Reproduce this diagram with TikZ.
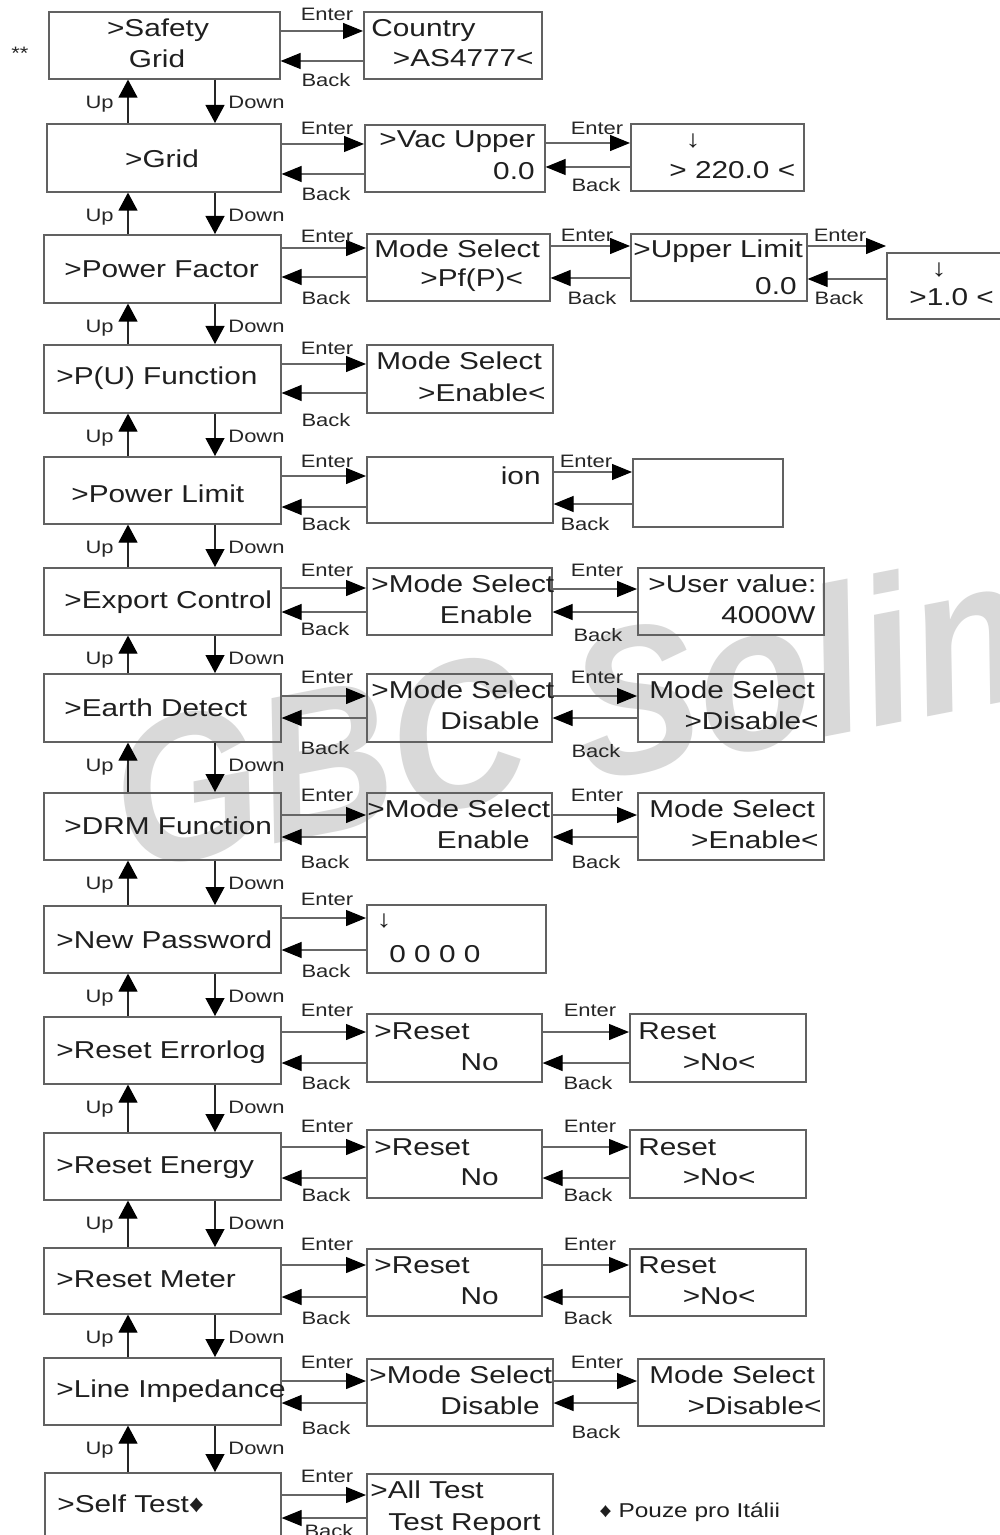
\documentclass[tikz,border=0pt]{standalone}
\usepackage{fontspec}
\setmainfont{Liberation Sans}[FakeStretch=1.22]
\newfontfamily\wmfont{Liberation Sans}[FakeStretch=0.9]
\usetikzlibrary{arrows.meta,calc}
\newcommand\mainsz{\fontsize{12.2pt}{14pt}\selectfont}
\newcommand\lblsz{\fontsize{9pt}{11pt}\selectfont}
\newcommand\mkbox[5]{\node[box, anchor=north west, minimum width={(#4-#2)*0.5pt}, minimum height={(#5-#3)*0.5pt}] (#1) at (#2,#3) {};}
\newcommand\lnk[4]{%
  \draw[harr] (#1.east |- 0,#3) -- (#2.west |- 0,#3);
  \draw[harr] (#2.west |- 0,#4) -- (#1.east |- 0,#4);}
\newcommand\ud[3]{%
  \draw[varr] (#2.north -| 128,0) -- (#1.south -| 128,0);
  \draw[varr] (#1.south -| 215,0) -- (#2.north -| 215,0);
  \node[lbl, anchor=base east] (up#3) at ($(#1.south -| 114,0)+(0,29)$) {Up};
  \node[lbl, anchor=base west] (dn#3) at ($(#1.south -| 228,0)+(0,29)$) {Down};}
\tikzset{
  box/.style={draw=black!62, line width=0.8pt, inner sep=0pt},
  lbl/.style={font=\lblsz, inner sep=0pt, text=black!85},
  txt/.style={font=\mainsz, inner sep=0pt, text=black!88},
  harr/.style={draw=black!60, line width=0.6pt, -{Triangle[length=10pt,width=8pt,color=black]}},
  varr/.style={draw=black!85, line width=0.6pt, -{Triangle[length=9pt,width=9.5pt,color=black]}},
  wm/.style={font=\wmfont\bfseries\itshape\fontsize{104pt}{110pt}\selectfont, text=black!15, inner sep=0pt}
}
\begin{document}
\begin{tikzpicture}[x=0.5pt,y=-0.5pt]
\useasboundingbox (0,0) rectangle (1000,1535);
\clip (0,0) rectangle (1000,1535);
\fill[white] (0,0) rectangle (1000,1535);
% watermark
\node[wm, anchor=base west, rotate=11] (wm) at (128,872) {GBC Solin};
% main column
\mkbox{m1}{48}{11}{279}{78}
\mkbox{m2}{46}{123}{280}{191}
\mkbox{m3}{43}{234}{280}{302}
\mkbox{m4}{43}{344}{280}{412}
\mkbox{m5}{43}{456}{280}{523}
\mkbox{m6}{43}{567}{280}{634}
\mkbox{m7}{43}{673}{280}{741}
\mkbox{m8}{43}{792}{280}{859}
\mkbox{m9}{43}{905}{280}{972}
\mkbox{m10}{43}{1016}{280}{1083}
\mkbox{m11}{43}{1132}{280}{1199}
\mkbox{m12}{43}{1247}{280}{1313}
\mkbox{m13}{43}{1357}{280}{1424}
\mkbox{m14}{44}{1472}{280}{1570}
% second column
\mkbox{a1}{363}{11}{541}{78}
\mkbox{a2}{364}{124}{544}{191}
\mkbox{a3}{366}{233}{549}{300}
\mkbox{a4}{366}{344}{552}{412}
\mkbox{a5}{366}{456}{552}{522}
\mkbox{a6}{366}{567}{551}{634}
\mkbox{a7}{366}{673}{551}{741}
\mkbox{a8}{366}{792}{551}{859}
\mkbox{a9}{366}{904}{545}{972}
\mkbox{a10}{366}{1013}{541}{1081}
\mkbox{a11}{366}{1129}{541}{1197}
\mkbox{a12}{366}{1248}{541}{1315}
\mkbox{a13}{366}{1358}{552}{1425}
\mkbox{a14}{366}{1473}{552}{1570}
% third column
\mkbox{c2}{630}{123}{803}{190}
\mkbox{c3}{630}{233}{806}{300}
\mkbox{c5}{632}{458}{782}{526}
\mkbox{c6}{637}{567}{823}{634}
\mkbox{c7}{637}{673}{823}{741}
\mkbox{c8}{637}{792}{823}{859}
\mkbox{c10}{629}{1013}{805}{1081}
\mkbox{c11}{629}{1129}{805}{1197}
\mkbox{c12}{629}{1248}{805}{1315}
\mkbox{c13}{637}{1358}{823}{1425}
\mkbox{d3}{886}{252}{1015}{318}
% enter/back links
\lnk{m1}{a1}{31}{61}
\lnk{m2}{a2}{144}{174}
\lnk{m3}{a3}{248}{277}
\lnk{m4}{a4}{364}{393}
\lnk{m5}{a5}{476}{507}
\lnk{m6}{a6}{588}{612}
\lnk{m7}{a7}{696}{718}
\lnk{m8}{a8}{815}{837}
\lnk{m9}{a9}{918}{950}
\lnk{m10}{a10}{1032}{1063}
\lnk{m11}{a11}{1147}{1178}
\lnk{m12}{a12}{1265}{1297}
\lnk{m13}{a13}{1381}{1403}
\lnk{m14}{a14}{1495}{1518}
\lnk{a2}{c2}{143}{167}
\lnk{a3}{c3}{246}{278}
\lnk{c3}{d3}{246}{279}
\lnk{a5}{c5}{472}{504}
\lnk{a6}{c6}{589}{612}
\lnk{a7}{c7}{696}{718}
\lnk{a8}{c8}{815}{837}
\lnk{a10}{c10}{1032}{1063}
\lnk{a11}{c11}{1147}{1178}
\lnk{a12}{c12}{1265}{1297}
\lnk{a13}{c13}{1381}{1403}
% enter/back labels, first column of links
\node[lbl] (e1) at (327,14) {Enter};   \node[lbl] (b1) at (326,80) {Back};
\node[lbl] (e2) at (327,128) {Enter};  \node[lbl] (b2) at (326,194) {Back};
\node[lbl] (e3) at (327,236) {Enter};  \node[lbl] (b3) at (326,298) {Back};
\node[lbl] (e4) at (327,348) {Enter};  \node[lbl] (b4) at (326,420) {Back};
\node[lbl] (e5) at (327,461) {Enter};  \node[lbl] (b5) at (326,524) {Back};
\node[lbl] (e6) at (327,570) {Enter};  \node[lbl] (b6) at (325,629) {Back};
\node[lbl] (e7) at (327,677) {Enter};  \node[lbl] (b7) at (325,748) {Back};
\node[lbl] (e8) at (327,795) {Enter};  \node[lbl] (b8) at (325,862) {Back};
\node[lbl] (e9) at (327,899) {Enter};  \node[lbl] (b9) at (326,971) {Back};
\node[lbl] (e10) at (327,1010) {Enter}; \node[lbl] (b10) at (326,1083) {Back};
\node[lbl] (e11) at (327,1126) {Enter}; \node[lbl] (b11) at (326,1195) {Back};
\node[lbl] (e12) at (327,1244) {Enter}; \node[lbl] (b12) at (326,1318) {Back};
\node[lbl] (e13) at (327,1362) {Enter}; \node[lbl] (b13) at (326,1428) {Back};
\node[lbl] (e14) at (327,1476) {Enter}; \node[lbl] (b14) at (329,1531) {Back};
% second column of links
\node[lbl] (f2) at (597,128) {Enter};  \node[lbl] (g2) at (596,185) {Back};
\node[lbl] (f3) at (587,235) {Enter};  \node[lbl] (g3) at (592,298) {Back};
\node[lbl] (h3) at (840,235) {Enter};  \node[lbl] (k3) at (839,298) {Back};
\node[lbl] (f5) at (586,461) {Enter};  \node[lbl] (g5) at (585,524) {Back};
\node[lbl] (f6) at (597,570) {Enter};  \node[lbl] (g6) at (598,635) {Back};
\node[lbl] (f7) at (597,677) {Enter};  \node[lbl] (g7) at (596,751) {Back};
\node[lbl] (f8) at (597,795) {Enter};  \node[lbl] (g8) at (596,862) {Back};
\node[lbl] (f10) at (590,1010) {Enter}; \node[lbl] (g10) at (588,1083) {Back};
\node[lbl] (f11) at (590,1126) {Enter}; \node[lbl] (g11) at (588,1195) {Back};
\node[lbl] (f12) at (590,1244) {Enter}; \node[lbl] (g12) at (588,1318) {Back};
\node[lbl] (f13) at (597,1362) {Enter}; \node[lbl] (g13) at (596,1432) {Back};
% up/down
\ud{m1}{m2}{1}
\ud{m2}{m3}{2}
\ud{m3}{m4}{3}
\ud{m4}{m5}{4}
\ud{m5}{m6}{5}
\ud{m6}{m7}{6}
\ud{m7}{m8}{7}
\ud{m8}{m9}{8}
\ud{m9}{m10}{9}
\ud{m10}{m11}{10}
\ud{m11}{m12}{11}
\ud{m12}{m13}{12}
\ud{m13}{m14}{13}
% main texts
\node[lbl, anchor=base west] (stars) at (11,60) {**};
\node[txt, anchor=base] (t1a) at (158,37) {>Safety};
\node[txt, anchor=base] (t1b) at (157,68) {Grid};
\node[txt, anchor=base] (t2) at (162,168) {>Grid};
\node[txt, anchor=base west] (t3) at (64,278) {>Power Factor};
\node[txt, anchor=base west] (t4) at (56,385) {>P(U) Function};
\node[txt, anchor=base west] (t5) at (71,502) {>Power Limit};
\node[txt, anchor=base west] (t6) at (64,608) {>Export Control};
\node[txt, anchor=base west] (t7) at (64,716) {>Earth Detect};
\node[txt, anchor=base west] (t8) at (64,834) {>DRM Function};
\node[txt, anchor=base west] (t9) at (56,948) {>New Password};
\node[txt, anchor=base west] (t10) at (56,1058) {>Reset Errorlog};
\node[txt, anchor=base west] (t11) at (56,1173) {>Reset Energy};
\node[txt, anchor=base west] (t12) at (56,1287) {>Reset Meter};
\node[txt, anchor=base west] (t13) at (56,1397) {>Line Impedance};
\node[txt, anchor=base west] (t14) at (57,1512) {>Self Test♦};
% second / third column texts
\node[txt, anchor=base west] (r1a) at (371,37) {Country};
\node[txt, anchor=base east] (r1b) at (534,67) {>AS4777<};
\node[txt, anchor=base west] (r2a) at (379,148) {>Vac Upper};
\node[txt, anchor=base east] (r2b) at (535,180) {0.0};
\node[txt] (r2c) at (693,141) {↓};
\node[txt, anchor=base west] (r2d) at (669,179) {> 220.0 <};
\node[txt, anchor=base west] (r3a) at (374,258) {Mode Select};
\node[txt, anchor=base west] (r3b) at (420,287) {>Pf(P)<};
\node[txt, anchor=base west] (r3c) at (633,258) {>Upper Limit};
\node[txt, anchor=base east] (r3d) at (797,295) {0.0};
\node[txt] (r3e) at (939,270) {↓};
\node[txt, anchor=base west] (r3f) at (909,306) {>1.0 <};
\node[txt, anchor=base west] (r4a) at (376,370) {Mode Select};
\node[txt, anchor=base east] (r4b) at (546,401) {>Enable<};
\node[txt, anchor=base east] (r5a) at (541,484) {ion};
\node[txt, anchor=base west] (r6a) at (371,592) {>Mode Select};
\node[txt, anchor=base east] (r6b) at (533,623) {Enable};
\node[txt, anchor=base west] (r6c) at (648,592) {>User value:};
\node[txt, anchor=base east] (r6d) at (816,623) {4000W};
\node[txt, anchor=base west] (r7a) at (371,698) {>Mode Select};
\node[txt, anchor=base east] (r7b) at (540,729) {Disable};
\node[txt, anchor=base west] (r7c) at (649,698) {Mode Select};
\node[txt, anchor=base east] (r7d) at (819,729) {>Disable<};
\node[txt, anchor=base west] (r8a) at (367,817) {>Mode Select};
\node[txt, anchor=base east] (r8b) at (530,848) {Enable};
\node[txt, anchor=base west] (r8c) at (649,817) {Mode Select};
\node[txt, anchor=base east] (r8d) at (819,848) {>Enable<};
\node[txt] (r9a) at (384,921) {↓};
\node[txt, anchor=base west] (r9b) at (389,962) {0 0 0 0};
\node[txt, anchor=base west] (r10a) at (374,1039) {>Reset};
\node[txt, anchor=base east] (r10b) at (499,1070) {No};
\node[txt, anchor=base west] (r10c) at (638,1039) {Reset};
\node[txt, anchor=base east] (r10d) at (756,1070) {>No<};
\node[txt, anchor=base west] (r11a) at (374,1155) {>Reset};
\node[txt, anchor=base east] (r11b) at (499,1185) {No};
\node[txt, anchor=base west] (r11c) at (638,1155) {Reset};
\node[txt, anchor=base east] (r11d) at (756,1185) {>No<};
\node[txt, anchor=base west] (r12a) at (374,1273) {>Reset};
\node[txt, anchor=base east] (r12b) at (499,1304) {No};
\node[txt, anchor=base west] (r12c) at (638,1273) {Reset};
\node[txt, anchor=base east] (r12d) at (756,1304) {>No<};
\node[txt, anchor=base west] (r13a) at (369,1383) {>Mode Select};
\node[txt, anchor=base east] (r13b) at (540,1414) {Disable};
\node[txt, anchor=base west] (r13c) at (649,1383) {Mode Select};
\node[txt, anchor=base east] (r13d) at (822,1414) {>Disable<};
\node[txt, anchor=base west] (r14a) at (370,1498) {>All Test};
\node[txt, anchor=base west] (r14b) at (388,1530) {Test Report};
\node[txt, font=\fontsize{10pt}{12pt}\selectfont, anchor=base west] (note) at (599,1517) {♦ Pouze pro Itálii};
\end{tikzpicture}
\end{document}
